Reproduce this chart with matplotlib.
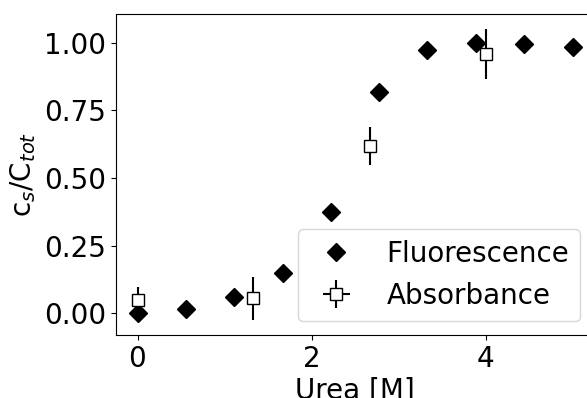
import matplotlib
matplotlib.use("Agg")
import matplotlib.pyplot as plt
import numpy as np

# fluorescence data
urea_fl = [0.0, 0.556, 1.111, 1.667, 2.222, 2.778, 3.333, 3.889, 4.444, 5.0]
frac_fl = [0.0, 0.015, 0.059, 0.148, 0.376, 0.82, 0.975, 1.0, 0.995, 0.985]

# absorbance data
urea_abs = [0.0, 1.333, 2.667, 4.0]
frac_abs = [0.048, 0.055, 0.618, 0.959]
err_abs = [0.048, 0.08, 0.07, 0.093]
xerr_abs = [0.02, 0.02, 0.02, 0.02]

if __name__ == "__main__":
    plt.rcParams['font.size'] = 20
    fig = plt.figure(figsize=(5.87, 3.98), dpi=100)
    ax = fig.add_axes([115.75 / 587, 63 / 398, 478.5 / 587, 321 / 398])

    ax.plot(urea_fl, frac_fl, 'D', color='black', markersize=9, label='Fluorescence')
    ax.errorbar(urea_abs, frac_abs, yerr=err_abs, xerr=xerr_abs, fmt='s',
                color='black', mfc='white', mec='black', markersize=9,
                markeredgewidth=1.0, elinewidth=1.5, label='Absorbance')

    ax.set_xlim(-0.25, 5.25)
    ax.set_ylim(-0.081, 1.107)
    ax.set_xticks([0, 2, 4])
    ax.set_yticks([0.0, 0.25, 0.5, 0.75, 1.0])
    ax.set_xlabel("Urea [M]", labelpad=3)
    ax.set_ylabel("c$_s$/C$_{tot}$")
    ax.legend(loc=4)
    plt.savefig("out.png", dpi=100)
